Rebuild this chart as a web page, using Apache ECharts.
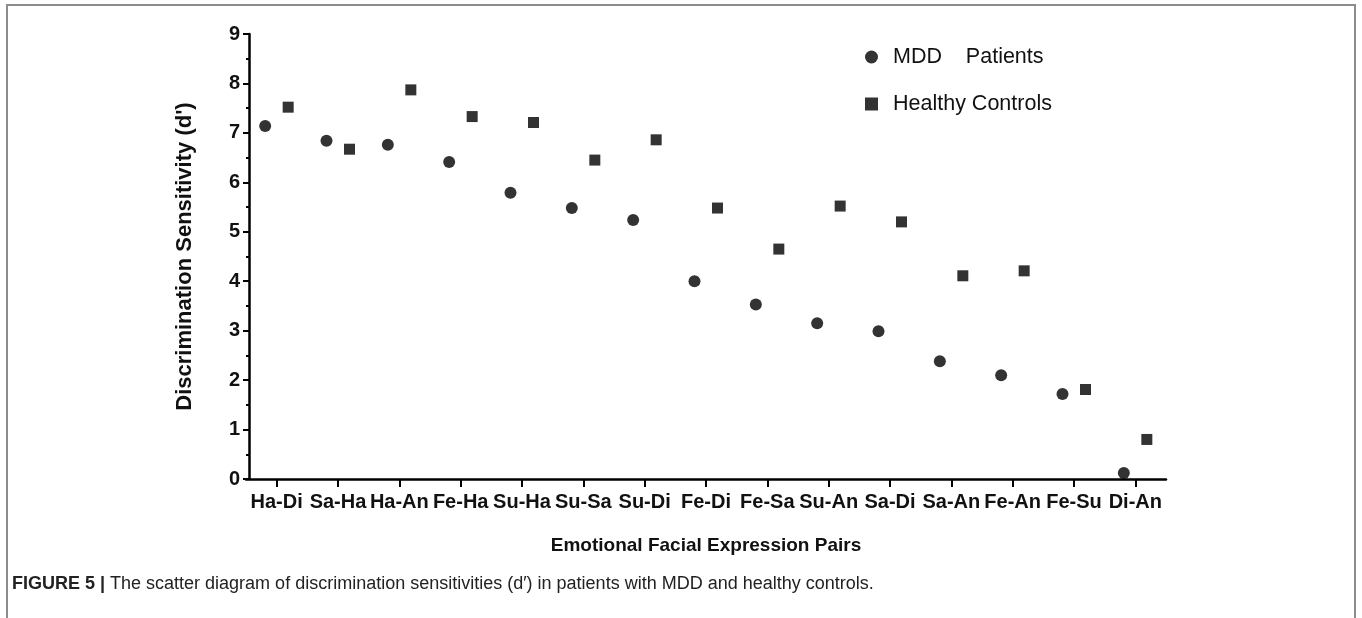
<!DOCTYPE html>
<html>
<head>
    <meta charset="utf-8">
    <title>Discrimination sensitivity scatter</title>
    <script src="https://cdn.jsdelivr.net/npm/echarts@6/dist/echarts.min.js"></script>
    <style>
        body { margin: 0; background: #fff; }
    </style>
</head>
<body>
    <div id="main" style="width: 1362px;height:618px;"></div>
    <script type="text/javascript">
        // data
        var pairs = ['Ha-Di', 'Sa-Ha', 'Ha-An', 'Fe-Ha', 'Su-Ha', 'Su-Sa', 'Su-Di', 'Fe-Di',
            'Fe-Sa', 'Su-An', 'Sa-Di', 'Sa-An', 'Fe-An', 'Fe-Su', 'Di-An'];
        var mddValues = [7.14, 6.84, 6.76, 6.41, 5.79, 5.48, 5.24, 4.00, 3.53, 3.15, 2.99, 2.38, 2.10, 1.72, 0.12];
        var hcValues = [7.52, 6.67, 7.87, 7.33, 7.21, 6.45, 6.86, 5.48, 4.65, 5.52, 5.20, 4.11, 4.21, 1.81, 0.80];
        var yTicks = [0, 1, 2, 3, 4, 5, 6, 7, 8, 9];

        var font = "'Liberation Sans', Arial, sans-serif";
        var myChart = echarts.init(document.getElementById('main'));

        var option = {
            backgroundColor: '#fff',
            animation: false,
            textStyle: { fontFamily: font, color: '#000' },
            grid: { left: 246, right: 196, top: 34, bottom: 139 },
            legend: {
                orient: 'vertical',
                left: 860,
                top: 41,
                itemWidth: 13,
                itemHeight: 13,
                itemGap: 25,
                textStyle: { fontFamily: font, fontSize: 21.5, color: '#111', padding: [0, 0, 0, 10] },
                data: [
                    { name: 'MDD    Patients', icon: 'circle' },
                    { name: 'Healthy Controls', icon: 'rect' }
                ]
            },
            xAxis: {
                type: 'category',
                data: pairs,
                boundaryGap: true,
                name: 'Emotional Facial Expression Pairs',
                nameLocation: 'middle',
                nameGap: 57,
                nameTextStyle: { fontFamily: font, fontSize: 19, fontWeight: 'bold', color: '#111' },
                axisLine: { lineStyle: { color: '#000', width: 2.5 } },
                axisTick: { show: true, alignWithLabel: true, inside: false, length: 8, lineStyle: { color: '#000', width: 2 } },
                axisLabel: { fontFamily: font, fontSize: 20, fontWeight: 'bold', color: '#111', margin: 13, interval: 0 },
                splitLine: { show: false }
            },
            yAxis: {
                type: 'value',
                min: yTicks[0],
                max: yTicks[yTicks.length - 1],
                interval: 1,
                offset: -3,
                name: "Discrimination Sensitivity (d')",
                nameLocation: 'middle',
                nameGap: 53,
                nameTextStyle: { fontFamily: font, fontSize: 22, fontWeight: 'bold', color: '#111' },
                axisLine: { show: true, lineStyle: { color: '#000', width: 2.5 } },
                axisTick: { show: true, length: 6, lineStyle: { color: '#000', width: 2 } },
                minorTick: { show: true, splitNumber: 2, length: 3, lineStyle: { color: '#000', width: 2 } },
                axisLabel: { fontFamily: font, fontSize: 20, fontWeight: 'bold', color: '#111', margin: 9 },
                splitLine: { show: false }
            },
            series: [
                {
                    name: 'MDD    Patients',
                    type: 'scatter',
                    symbol: 'circle',
                    symbolSize: 12,
                    symbolOffset: [-11.5, 0],
                    itemStyle: { color: '#000' },
                    data: mddValues
                },
                {
                    name: 'Healthy Controls',
                    type: 'scatter',
                    symbol: 'rect',
                    symbolSize: 11,
                    symbolOffset: [11.5, 0],
                    itemStyle: { color: '#000' },
                    data: hcValues
                }
            ],
            graphic: [
                {
                    type: 'rect',
                    silent: true,
                    shape: { x: 7, y: 5, width: 1348, height: 640 },
                    style: { fill: null, stroke: '#8c8c8c', lineWidth: 2 }
                },
                {
                    type: 'text',
                    left: 12,
                    top: 575,
                    style: {
                        text: '{b|FIGURE 5 |} The scatter diagram of discrimination sensitivities (d\u2032) in patients with MDD and healthy controls.',
                        font: '18px ' + font,
                        fill: '#222',
                        rich: {
                            b: { fontFamily: font, fontSize: 18, fontWeight: 'bold', fill: '#222' }
                        }
                    }
                }
            ]
        };

        myChart.setOption(option);
    </script>
</body>
</html>
